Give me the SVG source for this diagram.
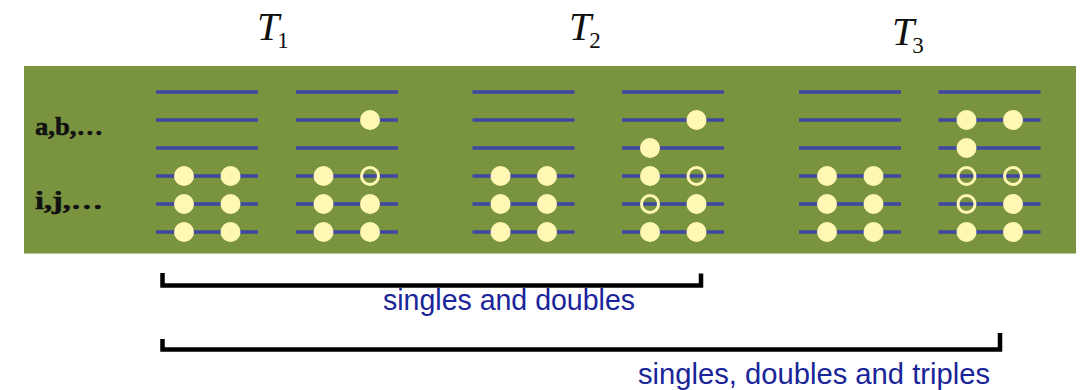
<svg xmlns="http://www.w3.org/2000/svg" width="1080" height="390" viewBox="0 0 1080 390">
  <style>
    .band { fill: #7a933f; }
    .orb { stroke: #3f47a3; stroke-width: 3.6; }
    .full { fill: #fff8b4; }
    .hole { fill: none; stroke: #fff8b4; stroke-width: 3; }
    .row { font-family: "Liberation Serif", serif; font-weight: bold; font-size: 25px; fill: #111; stroke: #111; stroke-width: 0.5; }
    .amp { font-family: "Liberation Serif", serif; font-style: italic; font-size: 40px; fill: #111; }
    .sub { font-style: normal; font-size: 23px; }
    .brk { fill: none; stroke: #000; stroke-width: 4.5; }
    .cap { font-family: "Liberation Sans", Arial, sans-serif; font-size: 29px; fill: #1a2599; }
  </style>
  <defs>
    <!-- one column of six orbital levels -->
    <g id="levels">
      <line class="orb" x1="0" y1="92" x2="102" y2="92"/>
      <line class="orb" x1="0" y1="120" x2="102" y2="120"/>
      <line class="orb" x1="0" y1="148" x2="102" y2="148"/>
      <line class="orb" x1="0" y1="176" x2="102" y2="176"/>
      <line class="orb" x1="0" y1="204" x2="102" y2="204"/>
      <line class="orb" x1="0" y1="232" x2="102" y2="232"/>
    </g>
  </defs>

  <rect class="band" x="24" y="66" width="1052" height="187"/>
  <line x1="24" y1="253.5" x2="1076" y2="253.5" stroke="#b9c49a" stroke-width="1"/>

  <text class="row" x="35" y="135" textLength="68" lengthAdjust="spacingAndGlyphs">a,b,…</text>
  <text class="row" x="35" y="209" textLength="68" lengthAdjust="spacingAndGlyphs">i,j,…</text>

  <text class="amp" x="257" y="40">T<tspan class="sub" dx="-2" dy="8">1</tspan></text>
  <text class="amp" x="569" y="40">T<tspan class="sub" dx="-2" dy="8">2</tspan></text>
  <text class="amp" x="892" y="45">T<tspan class="sub" dx="-2" dy="8">3</tspan></text>

  <!-- reference determinant -->
  <g id="ref1">
    <use href="#levels" x="156"/>
    <circle class="full" cx="184" cy="176" r="10"/><circle class="full" cx="230.5" cy="176" r="10"/>
    <circle class="full" cx="184" cy="204" r="10"/><circle class="full" cx="230.5" cy="204" r="10"/>
    <circle class="full" cx="184" cy="232" r="10"/><circle class="full" cx="230.5" cy="232" r="10"/>
  </g>

  <!-- single excitation -->
  <g id="single">
    <use href="#levels" x="296"/>
    <circle class="full" cx="370" cy="120" r="10"/>
    <circle class="full" cx="323.5" cy="176" r="10"/><circle class="hole" cx="370" cy="176" r="8.5"/>
    <circle class="full" cx="323.5" cy="204" r="10"/><circle class="full" cx="370" cy="204" r="10"/>
    <circle class="full" cx="323.5" cy="232" r="10"/><circle class="full" cx="370" cy="232" r="10"/>
  </g>

  <g id="ref2">
    <use href="#levels" x="472.5"/>
    <circle class="full" cx="500.5" cy="176" r="10"/><circle class="full" cx="547" cy="176" r="10"/>
    <circle class="full" cx="500.5" cy="204" r="10"/><circle class="full" cx="547" cy="204" r="10"/>
    <circle class="full" cx="500.5" cy="232" r="10"/><circle class="full" cx="547" cy="232" r="10"/>
  </g>

  <!-- double excitation -->
  <g id="double">
    <use href="#levels" x="622"/>
    <circle class="full" cx="696.5" cy="120" r="10"/>
    <circle class="full" cx="650" cy="148" r="10"/>
    <circle class="full" cx="650" cy="176" r="10"/><circle class="hole" cx="696.5" cy="176" r="8.5"/>
    <circle class="hole" cx="650" cy="204" r="8.5"/><circle class="full" cx="696.5" cy="204" r="10"/>
    <circle class="full" cx="650" cy="232" r="10"/><circle class="full" cx="696.5" cy="232" r="10"/>
  </g>

  <g id="ref3">
    <use href="#levels" x="799"/>
    <circle class="full" cx="827" cy="176" r="10"/><circle class="full" cx="873.5" cy="176" r="10"/>
    <circle class="full" cx="827" cy="204" r="10"/><circle class="full" cx="873.5" cy="204" r="10"/>
    <circle class="full" cx="827" cy="232" r="10"/><circle class="full" cx="873.5" cy="232" r="10"/>
  </g>

  <!-- triple excitation -->
  <g id="triple">
    <use href="#levels" x="938.5"/>
    <circle class="full" cx="966.5" cy="120" r="10"/><circle class="full" cx="1013" cy="120" r="10"/>
    <circle class="full" cx="966.5" cy="148" r="10"/>
    <circle class="hole" cx="966.5" cy="176" r="8.5"/><circle class="hole" cx="1013" cy="176" r="8.5"/>
    <circle class="hole" cx="966.5" cy="204" r="8.5"/><circle class="full" cx="1013" cy="204" r="10"/>
    <circle class="full" cx="966.5" cy="232" r="10"/><circle class="full" cx="1013" cy="232" r="10"/>
  </g>

  <!-- range brackets -->
  <g id="connectors">
    <path class="brk" d="M162.5 273 V285.5 H701 V273.5"/>
    <path class="brk" d="M162.5 339 V349.5 H1000 V333"/>
  </g>
  <text class="cap" x="383" y="310" textLength="252" lengthAdjust="spacingAndGlyphs">singles and doubles</text>
  <text class="cap" x="638" y="384" textLength="352" lengthAdjust="spacingAndGlyphs">singles, doubles and triples</text>
</svg>
